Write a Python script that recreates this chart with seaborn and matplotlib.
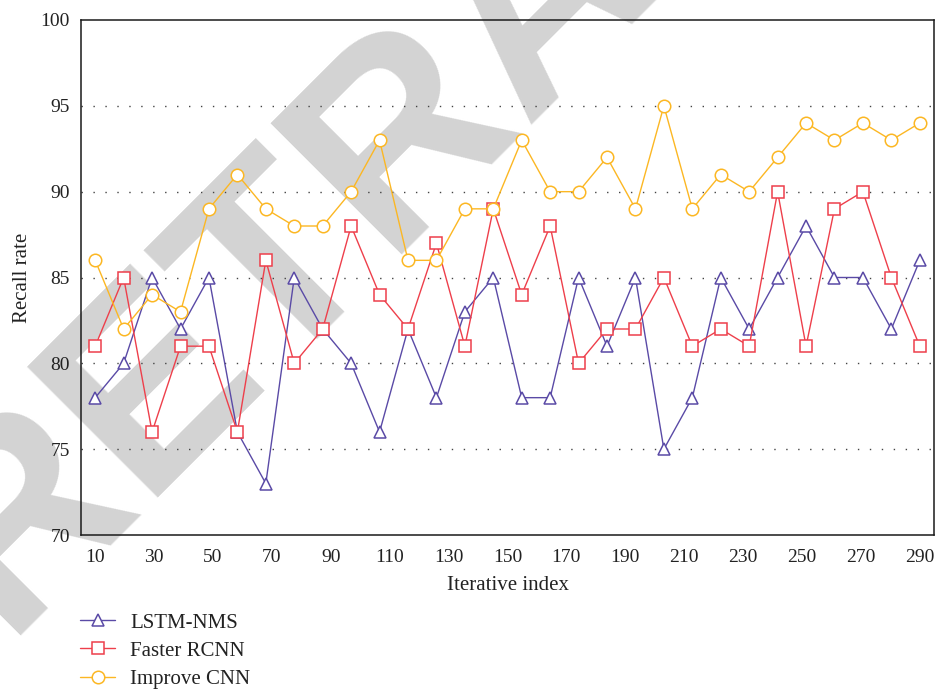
import numpy as np
import pandas as pd
import matplotlib
matplotlib.use("Agg")
import matplotlib.pyplot as plt
import seaborn as sns

# ---- data ----
tick_labels = [10, 30, 50, 70, 90, 110, 130, 150, 170, 190, 210, 230, 250, 270, 290]
lstm_nms = [78, 80, 85, 82, 85, 76, 73, 85, 82, 80, 76, 82, 78, 83, 85,
            78, 78, 85, 81, 85, 75, 78, 85, 82, 85, 88, 85, 85, 82, 86]
faster_rcnn = [81, 85, 76, 81, 81, 76, 86, 80, 82, 88, 84, 82, 87, 81, 89,
               84, 88, 80, 82, 82, 85, 81, 82, 81, 90, 81, 89, 90, 85, 81]
improve_cnn = [86, 82, 84, 83, 89, 91, 89, 88, 88, 90, 93, 86, 86, 89, 89,
               93, 90, 90, 92, 89, 95, 89, 91, 90, 92, 94, 93, 94, 93, 94]
series_names = ["LSTM-NMS", "Faster RCNN", "Improve CNN"]
y_ticks = [70, 75, 80, 85, 90, 95, 100]

# ---- style ----
sns.set_theme(style="white")
plt.rcParams["font.family"] = ["Liberation Serif", "DejaVu Serif"]
plt.rcParams["axes.unicode_minus"] = False

colors = ["#5a4aa6", "#ee3f4b", "#fcb723"]
markers = ["^", "s", "o"]

fig = plt.figure(figsize=(9.35, 6.92), dpi=100)
ax = fig.add_axes([81 / 935, 1 - 535 / 692, (934 - 81) / 935, (535 - 20) / 692])
ax.set_facecolor("none")

# watermark
fig.text(590 / 935, 1 - 47 / 692, "RETRACTED", rotation=45, rotation_mode="anchor",
         ha="center", va="baseline", fontsize=194, fontweight="bold",
         family="Liberation Sans", color="#d3d3d3", zorder=-5)

idx = np.arange(len(lstm_nms))
for name, vals, c, m in zip(series_names, [lstm_nms, faster_rcnn, improve_cnn], colors, markers):
    df = pd.DataFrame({"x": idx, "y": vals})
    sns.lineplot(data=df, x="x", y="y", ax=ax, color=c, linewidth=1.0,
                 marker=m, markersize=9 if m != "s" else 8.5,
                 markerfacecolor="white", markeredgecolor=c, markeredgewidth=1.1,
                 label=name, legend=False, zorder=3)

n = len(lstm_nms)
ax.set_xlim(-0.5, n - 0.5)
ax.set_ylim(70, 100)
tick_pos = [(t - tick_labels[0]) / (tick_labels[-1] - tick_labels[0]) * (n - 1) for t in tick_labels]
ax.set_xticks(tick_pos)
ax.set_xticklabels([str(t) for t in tick_labels])
ax.set_yticks(y_ticks)
ax.set_yticklabels([str(t) for t in y_ticks])
ax.tick_params(axis="both", length=0, labelsize=14, colors="#222222")
ax.tick_params(axis="x", pad=10)
ax.tick_params(axis="y", pad=8)

for yv in y_ticks[1:-1]:
    ax.axhline(yv, color="#444444", linewidth=1.0, linestyle=(0, (1, 7.6)), zorder=1)

for s in ax.spines.values():
    s.set_visible(True)
    s.set_color("#1a1a1a")
    s.set_linewidth(1.1)

ax.set_xlabel("Iterative index", fontsize=15, color="#222222", labelpad=7)
ax.set_ylabel("Recall rate", fontsize=15, color="#222222", labelpad=6)

handles, labels = ax.get_legend_handles_labels()
fig.legend(handles, labels, loc="upper left", bbox_to_anchor=(80 / 935, 1 - 613 / 692),
           frameon=False, fontsize=15, handlelength=1.7, handletextpad=0.72,
           labelspacing=0.41, borderpad=0, borderaxespad=0,
           labelcolor="#222222")

fig.savefig("out.png", dpi=100)
